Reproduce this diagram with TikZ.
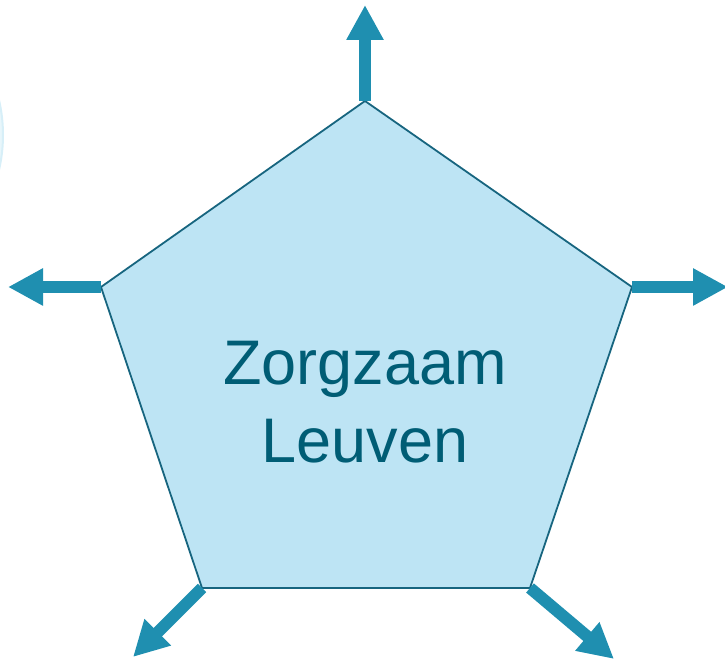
\documentclass[tikz,border=0pt]{standalone}
\usepackage{fontspec}
\setmainfont{Liberation Sans}
\usepackage{tikz}
\usetikzlibrary{arrows.meta}
\definecolor{pentfill}{HTML}{BDE4F4}
\definecolor{pentline}{HTML}{17657F}
\definecolor{pentarrow}{HTML}{1F8FB0}
\definecolor{penttext}{HTML}{005D75}
\newcommand{\pentarrow}[2]{
	\draw [outarrow] (#1) -- (#2);}

\begin{document}
\begin{tikzpicture}[x=1pt,y=1pt,
	pentagon/.style={draw=pentline, fill=pentfill, line width=1.8pt, line join=miter},
	outarrow/.style={draw=pentarrow, line width=12pt, -{Triangle[length=35pt,width=35pt]}},
	title/.style={text=penttext, font=\fontsize{63}{78}\selectfont, align=center}]
	\useasboundingbox (0,0) rectangle (725,660);
	% sliver of the neighbouring circle
	\begin{scope}
		\clip (0,0) rectangle (5,660);
		\draw [draw=pentfill!60!white, line width=2pt, fill=pentfill!35!white] (-150,525) circle (153);
	\end{scope}
	\coordinate (top) at (365,559);
	\coordinate (right) at (632,373);
	\coordinate (bright) at (530,72);
	\coordinate (bleft) at (202,72);
	\coordinate (left) at (101,373);
	\draw [pentagon] (top) -- (right) -- (bright) -- (bleft) -- (left) -- cycle;
	\node [title] (name) at (365,258) {Zorgzaam\\Leuven};
	\coordinate (toptip) at (365,655);
	\coordinate (righttip) at (728,373);
	\coordinate (lefttip) at (8,373);
	\coordinate (blefttip) at (133,3);
	\coordinate (brighttip) at (614,1);
	\pentarrow{top}{toptip}
	\pentarrow{right}{righttip}
	\pentarrow{left}{lefttip}
	\pentarrow{bleft}{blefttip}
	\pentarrow{bright}{brighttip}
\end{tikzpicture}
\end{document}
